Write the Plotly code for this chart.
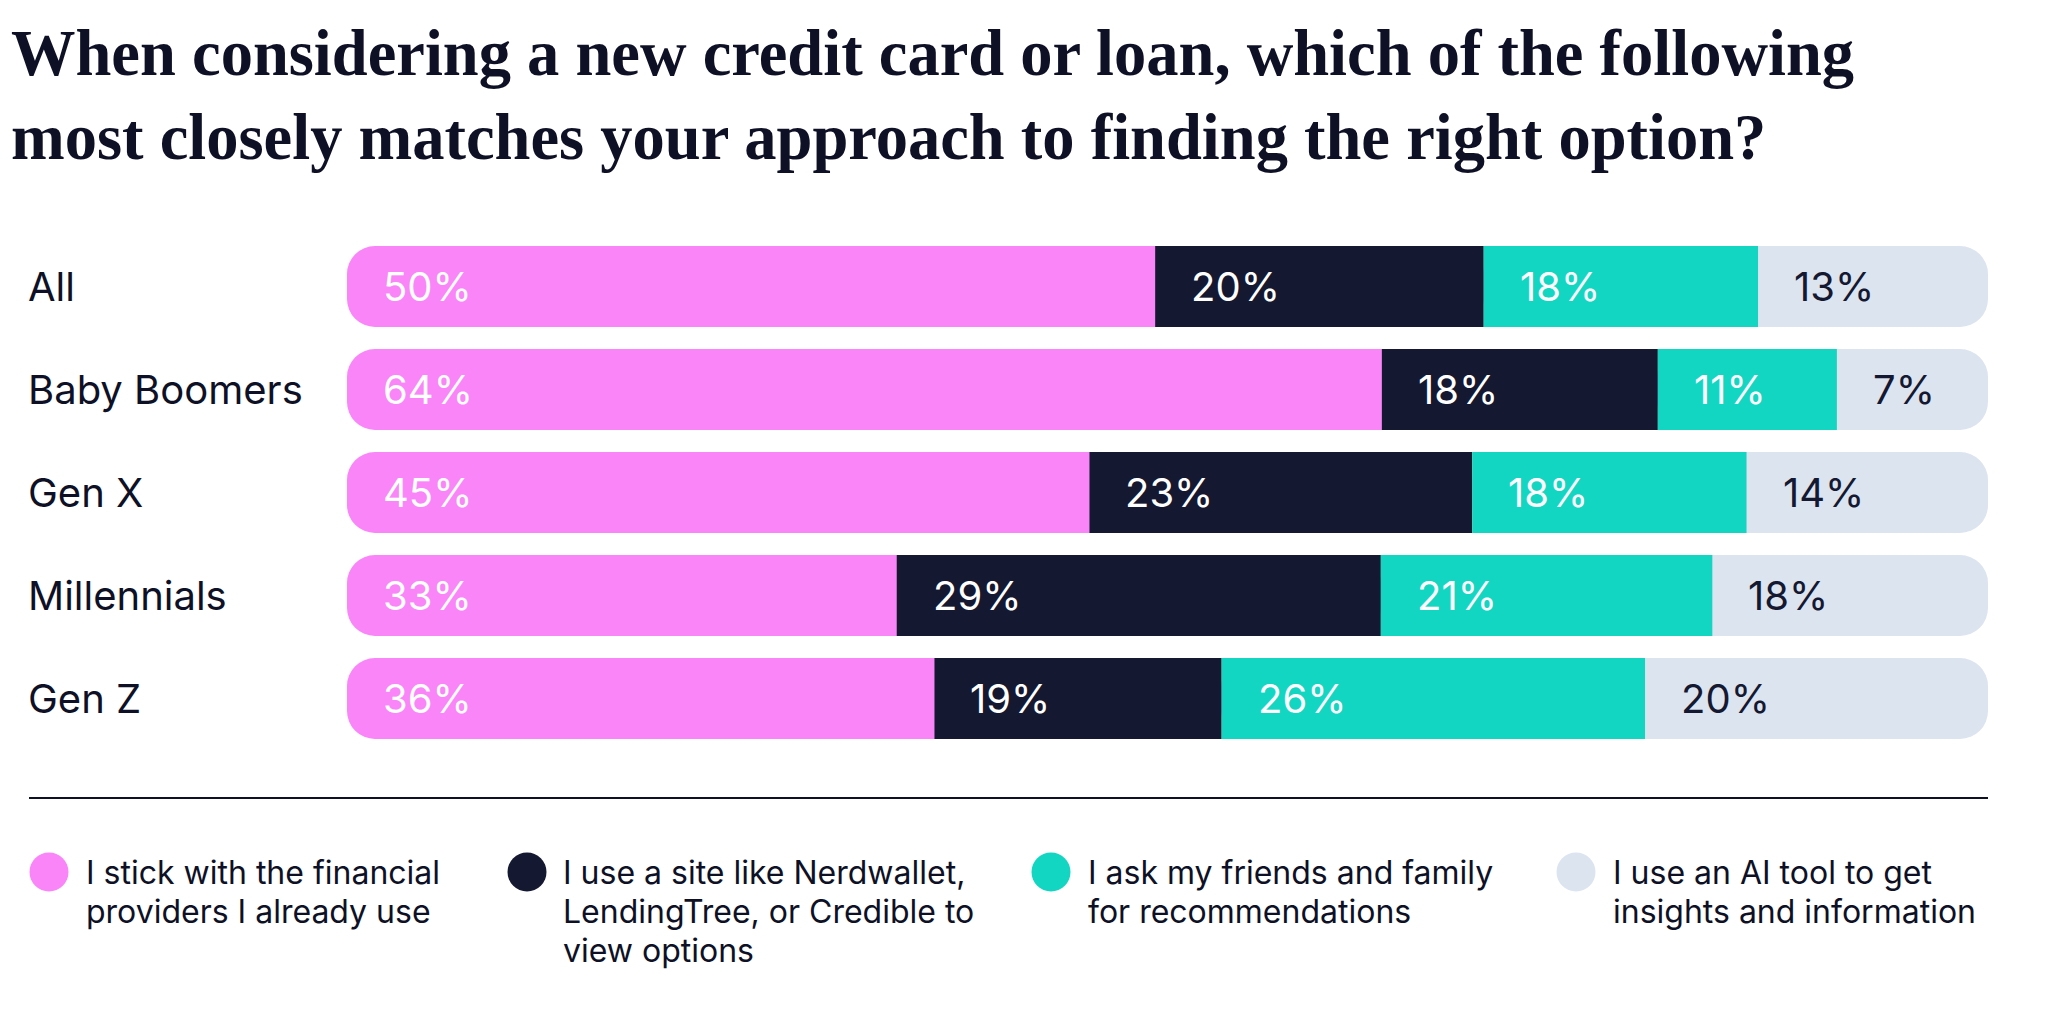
import plotly.graph_objects as go

# ---------------- data ----------------
categories = ["All", "Baby Boomers", "Gen X", "Millennials", "Gen Z"]
series_names = [
    "I stick with the financial<br>providers I already use",
    "I use a site like Nerdwallet,<br>LendingTree, or Credible to<br>view options",
    "I ask my friends and family<br>for recommendations",
    "I use an AI tool to get<br>insights and information",
]
# printed percentages (labels)
stick_with_providers = [50, 64, 45, 33, 36]
use_comparison_site = [20, 18, 23, 29, 19]
ask_friends_family = [18, 11, 18, 21, 26]
use_ai_tool = [13, 7, 14, 18, 20]

# bar lengths as drawn (share of each row)
stick_share = [49.2, 63.0, 45.2, 33.5, 35.8]
site_share = [20.0, 16.8, 23.3, 29.5, 17.5]
friends_share = [16.7, 10.9, 16.7, 20.2, 25.8]
ai_share = [14.0, 9.2, 14.7, 16.8, 20.9]

series_labels = [stick_with_providers, use_comparison_site, ask_friends_family, use_ai_tool]
series_shares = [stick_share, site_share, friends_share, ai_share]
colors = ["#F985F9", "#141830", "#13D6C2", "#DCE4F0"]
label_colors = ["#FFFFFF", "#FFFFFF", "#FFFFFF", "#141830"]

title_text = ("When considering a new credit card or loan, which of the following<br>"
              "most closely matches your approach to finding the right option?")

# ---------------- layout constants (pixels, page coordinates) ----------------
W, H = 2048, 1034
OFF = 8                      # page body margin
NAVY = "#0E1126"
SANS = "Inter, Roboto, sans-serif"
SERIF = "Liberation Serif, DejaVu Serif, serif"
PLOT_TOP, PLOT_BOTTOM = 235 - OFF, 750 - OFF


def px(x):
    return (x - OFF) / W


def py(y):
    y = y - OFF
    return (PLOT_BOTTOM - y) / (PLOT_BOTTOM - PLOT_TOP)


# normalise each row so every bar spans the full width
totals = [sum(vals) for vals in zip(*series_shares)]
scaled = [[v / t * 100 for v, t in zip(vals, totals)] for vals in series_shares]
starts, ends = [], []
run = [0.0] * len(categories)
for vals in scaled:
    starts.append(list(run))
    run = [r + v for r, v in zip(run, vals)]
    ends.append(list(run))

fig = go.Figure()
n = len(series_shares)
RADIUS = 28
# outer segments first (rounded), extended under their inner neighbour so that
# only the outer ends of each row show rounded corners
first_end = ends[1]
fig.add_trace(go.Bar(
    y=categories, x=[-e for e in first_end], base=first_end, orientation="h",
    marker=dict(color=colors[0], line=dict(width=0), cornerradius=RADIUS),
    width=0.786, showlegend=False, hoverinfo="skip",
))
last_start = starts[n - 2]
fig.add_trace(go.Bar(
    y=categories, x=[100 - s for s in last_start], base=last_start, orientation="h",
    marker=dict(color=colors[n - 1], line=dict(width=0), cornerradius=RADIUS),
    width=0.786, showlegend=False, hoverinfo="skip",
))
for i in range(1, n - 1):
    fig.add_trace(go.Bar(
        y=categories, x=scaled[i], base=starts[i], orientation="h",
        marker=dict(color=colors[i], line=dict(width=0), cornerradius=0),
        width=0.786, showlegend=False, hoverinfo="skip",
    ))

annotations = []
# value labels
for i, (vals, st) in enumerate(zip(series_labels, starts)):
    for cat, v, s in zip(categories, vals, st):
        annotations.append(dict(
            x=s, y=cat, xref="x", yref="y", text=f"{v}%", showarrow=False,
            xanchor="left", yanchor="middle", xshift=34,
            font=dict(family=SANS, size=40, color=label_colors[i]),
        ))
# category labels
for cat in categories:
    annotations.append(dict(
        x=px(26), y=cat, xref="paper", yref="y", text=cat, showarrow=False,
        xanchor="left", yanchor="middle",
        font=dict(family=SANS, size=40, color=NAVY),
    ))
# title
annotations.append(dict(
    x=px(9), y=py(16), xref="paper", yref="paper", text=title_text,
    showarrow=False, xanchor="left", yanchor="top", align="left",
    font=dict(family=SERIF, size=64.5, color=NAVY, weight="bold"),
))

shapes = [dict(type="line", xref="paper", yref="paper",
               x0=px(29), x1=px(1988), y0=py(798), y1=py(798),
               line=dict(color=NAVY, width=2))]

# legend
legend_circle_x = [49, 527, 1051, 1576]
legend_text_x = [84, 561, 1086, 1611]
legend_cy = 872
legend_line_gap = 39
r = 19.5
for name, col, cx, tx in zip(series_names, colors, legend_circle_x, legend_text_x):
    shapes.append(dict(type="circle", xref="paper", yref="paper",
                       x0=px(cx - r), x1=px(cx + r), y0=py(legend_cy + r), y1=py(legend_cy - r),
                       fillcolor=col, line=dict(width=0)))
    for k, line_text in enumerate(name.split("<br>")):
        annotations.append(dict(
            x=px(tx), y=py(legend_cy + k * legend_line_gap), xref="paper", yref="paper",
            text=line_text, showarrow=False, xanchor="left", yanchor="middle", align="left",
            font=dict(family=SANS, size=32, color=NAVY),
        ))

fig.update_layout(
    width=W, height=H,
    barmode="overlay",
    paper_bgcolor="white", plot_bgcolor="white",
    margin=dict(l=0, r=0, t=PLOT_TOP, b=H - PLOT_BOTTOM, pad=0),
    xaxis=dict(domain=[px(347), px(1988)], range=[0, 100], visible=False, fixedrange=True),
    yaxis=dict(categoryorder="array", categoryarray=categories, range=[4.5, -0.5],
               visible=False, fixedrange=True),
    annotations=annotations, shapes=shapes,
    showlegend=False,
)

fig.write_html("out.html")
